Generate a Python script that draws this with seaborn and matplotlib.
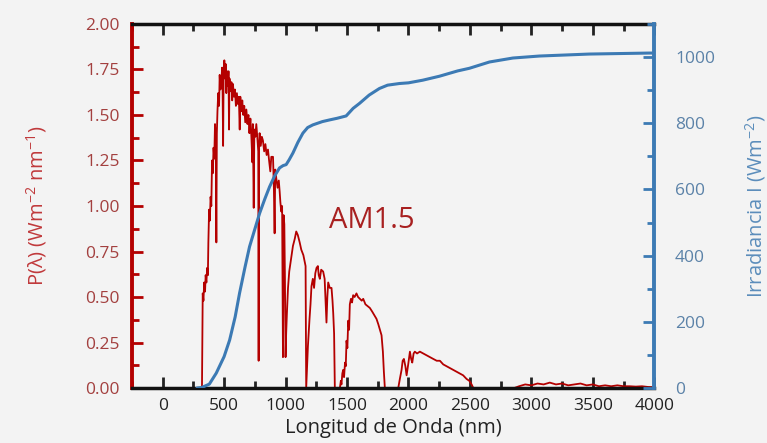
import numpy as np
import pandas as pd
import matplotlib
matplotlib.use("Agg")
import matplotlib.pyplot as plt
import seaborn as sns
from matplotlib.ticker import MultipleLocator

# espectro AM1.5 (nm, W m-2 nm-1)
wl = [280, 320, 323, 326, 332, 338, 345, 350, 356, 362, 368, 372, 378, 384, 390, 396,
      402, 408, 414, 420, 426, 432, 437, 441, 446, 452, 459, 464, 470, 478, 484, 488,
      492, 496, 502, 508, 513, 518, 524, 532, 536, 540, 544, 552, 560, 566, 572, 580,
      588, 596, 604, 612, 620, 627, 632, 640, 648, 656, 664, 672, 681, 690, 698, 706,
      714, 722, 730, 734, 741, 746, 754, 762, 770, 778, 781, 784, 789, 798, 807, 816,
      826, 836, 846, 857, 866, 876, 884, 898, 905, 911, 916, 925, 935, 945, 952, 958,
      965, 972, 979, 984, 990, 995, 1000, 1005, 1011, 1020, 1030, 1047, 1060, 1075, 1087,
      1100, 1115, 1128, 1145, 1163, 1168, 1175, 1182, 1188, 1195, 1203, 1211, 1222, 1232,
      1242, 1252, 1263, 1270, 1279, 1290, 1306, 1318, 1333, 1340, 1347, 1360, 1374, 1382,
      1388, 1395, 1401, 1442, 1450, 1455, 1462, 1469, 1476, 1484, 1490, 1496, 1503, 1510,
      1517, 1523, 1532, 1541, 1550, 1562, 1577, 1590, 1605, 1620, 1632, 1650, 1668, 1686,
      1705, 1722, 1740, 1755, 1768, 1781, 1792, 1800, 1808, 1917, 1930, 1944, 1953, 1963,
      1975, 1985, 1998, 2012, 2022, 2031, 2042, 2052, 2070, 2093, 2120, 2147, 2175, 2202,
      2230, 2256, 2283, 2310, 2337, 2364, 2390, 2419, 2445, 2473, 2495, 2514, 2528, 2860,
      2900, 2950, 3000, 3050, 3100, 3150, 3200, 3250, 3300, 3350, 3400, 3450, 3500, 3550,
      3600, 3650, 3700, 3750, 3800, 3850, 3900, 3950, 4000]
power = [0.00, 0.00, 0.30, 0.52, 0.48, 0.58, 0.53, 0.62, 0.58, 0.66, 0.62, 0.80, 0.98, 0.92,
         1.05, 1.00, 1.25, 1.18, 1.32, 1.26, 1.45, 1.36, 0.80, 1.40, 1.52, 1.62, 1.55, 1.72,
         1.64, 1.69, 1.76, 1.62, 1.33, 1.72, 1.80, 1.70, 1.78, 1.62, 1.74, 1.66, 1.74, 1.42,
         1.70, 1.63, 1.68, 1.58, 1.67, 1.60, 1.64, 1.55, 1.62, 1.56, 1.60, 1.42, 1.60, 1.52,
         1.58, 1.50, 1.55, 1.46, 1.53, 1.45, 1.50, 1.40, 1.48, 1.38, 1.24, 1.45, 0.99, 1.42,
         1.38, 1.45, 1.38, 1.30, 0.15, 1.30, 1.40, 1.33, 1.38, 1.36, 1.30, 1.34, 1.28, 1.31,
         1.25, 1.19, 1.27, 1.27, 1.10, 0.85, 1.20, 1.15, 1.10, 1.14, 1.08, 1.02, 0.97, 1.00,
         0.17, 0.95, 0.90, 0.60, 0.17, 0.30, 0.41, 0.55, 0.64, 0.72, 0.78, 0.82, 0.86, 0.84,
         0.80, 0.76, 0.73, 0.67, 0.00, 0.12, 0.23, 0.30, 0.38, 0.46, 0.56, 0.60, 0.55, 0.63,
         0.66, 0.67, 0.62, 0.60, 0.65, 0.64, 0.60, 0.36, 0.50, 0.58, 0.55, 0.55, 0.48, 0.41,
         0.30, 0.00, 0.00, 0.04, 0.02, 0.08, 0.10, 0.06, 0.14, 0.12, 0.26, 0.22, 0.37, 0.32,
         0.46, 0.49, 0.47, 0.51, 0.50, 0.52, 0.50, 0.49, 0.48, 0.49, 0.46, 0.45, 0.44, 0.42,
         0.40, 0.38, 0.35, 0.32, 0.29, 0.20, 0.09, 0.00, 0.00, 0.05, 0.10, 0.15, 0.16, 0.12,
         0.07, 0.13, 0.20, 0.16, 0.14, 0.19, 0.20, 0.19, 0.20, 0.19, 0.18, 0.17, 0.16, 0.15,
         0.15, 0.13, 0.12, 0.11, 0.10, 0.09, 0.08, 0.07, 0.05, 0.04, 0.02, 0.00, 0.00, 0.01,
         0.02, 0.015, 0.025, 0.02, 0.03, 0.02, 0.025, 0.015, 0.02, 0.025, 0.015, 0.02, 0.01,
         0.015, 0.01, 0.015, 0.01, 0.01, 0.008, 0.01, 0.006, 0.005]

# irradiancia acumulada (W m-2)
wl_cum = [280, 320, 380, 436, 500, 545, 590, 626, 670, 707, 750, 789, 830, 870, 910, 951,
          980, 1005, 1030, 1060, 1100, 1141, 1180, 1222, 1300, 1358, 1420, 1493, 1550, 1602,
          1680, 1764, 1830, 1927, 2000, 2116, 2252, 2400, 2496, 2659, 2850, 3065, 3472, 3960,
          4000]
irr_cum = [0, 2, 12, 45, 95, 145, 215, 287, 365, 427, 480, 528, 570, 608, 640, 665,
           672, 675, 690, 710, 742, 770, 787, 795, 805, 810, 815, 822, 845, 860,
           885, 905, 915, 920, 922, 930, 942, 958, 966, 985, 997, 1003, 1009, 1012,
           1012]

red = "#B40000"
blue = "#3C7AB4"
bg = "#F3F3F3"

sns.set_theme(style="ticks")
plt.rcParams["font.family"] = ["Open Sans", "DejaVu Sans"]
plt.rcParams["mathtext.default"] = "regular"

spec = pd.DataFrame({"wl": wl, "p": power})
cum = pd.DataFrame({"wl": wl_cum, "i": irr_cum})

fig, ax = plt.subplots(figsize=(7.67, 4.43), dpi=100)
fig.patch.set_facecolor(bg)
ax.set_facecolor(bg)
fig.subplots_adjust(left=0.172, right=0.853, bottom=0.124, top=0.946)

sns.lineplot(data=spec, x="wl", y="p", ax=ax, color=red, linewidth=1.3)
ax.set_xlim(-250, 4000)
ax.set_ylim(0, 2.0)
ax.xaxis.set_major_locator(MultipleLocator(500))
ax.xaxis.set_minor_locator(MultipleLocator(250))
ax.yaxis.set_major_locator(MultipleLocator(0.25))
ax.yaxis.set_minor_locator(MultipleLocator(0.125))
ax.yaxis.set_major_formatter(matplotlib.ticker.FormatStrFormatter("%.2f"))

ax.tick_params(axis="x", which="both", direction="in", top=True, colors="#222222",
               labelsize=12.5, width=2, pad=7)
ax.tick_params(axis="x", which="major", length=8)
ax.tick_params(axis="x", which="minor", length=5)
ax.tick_params(axis="y", which="both", direction="in", color=red, labelcolor="#A3403F",
               labelsize=12.5, width=2, pad=9)
ax.tick_params(axis="y", which="major", length=8)
ax.tick_params(axis="y", which="minor", length=5)

ax.set_xlabel("Longitud de Onda (nm)", fontsize=14.5, color="#222222", labelpad=3)
ax.set_ylabel("P(λ) (Wm$^{-2}$ nm$^{-1}$)", fontsize=14.5, color="#C0393B", labelpad=26)
ax.text(1700, 0.92, "AM1.5", fontsize=21, color="#A82020", ha="center", va="center")

ax2 = ax.twinx()
sns.lineplot(data=cum, x="wl", y="i", ax=ax2, color=blue, linewidth=2.2)
ax2.set_ylim(0, 1100)
ax2.yaxis.set_minor_locator(MultipleLocator(100))
ax2.set_yticks([0, 200, 400, 600, 800, 1000])
ax2.tick_params(axis="y", which="both", direction="in", color=blue, labelcolor="#5B82A8",
                labelsize=12.5, width=2, pad=15)
ax2.tick_params(axis="y", which="major", length=8)
ax2.tick_params(axis="y", which="minor", length=5)
ax2.set_ylabel("Irradiancia I (Wm$^{-2}$)", fontsize=14.5, color="#5B8DBB", labelpad=20)

for s in ["top", "bottom"]:
    ax.spines[s].set_color("#111111")
    ax.spines[s].set_linewidth(2.5)
    ax2.spines[s].set_visible(False)
ax.spines["left"].set_color(red)
ax.spines["left"].set_linewidth(2.8)
ax.spines["right"].set_visible(False)
ax2.spines["left"].set_visible(False)
ax2.spines["right"].set_color(blue)
ax2.spines["right"].set_linewidth(2.8)

fig.savefig("out.png", dpi=100, facecolor=bg)
